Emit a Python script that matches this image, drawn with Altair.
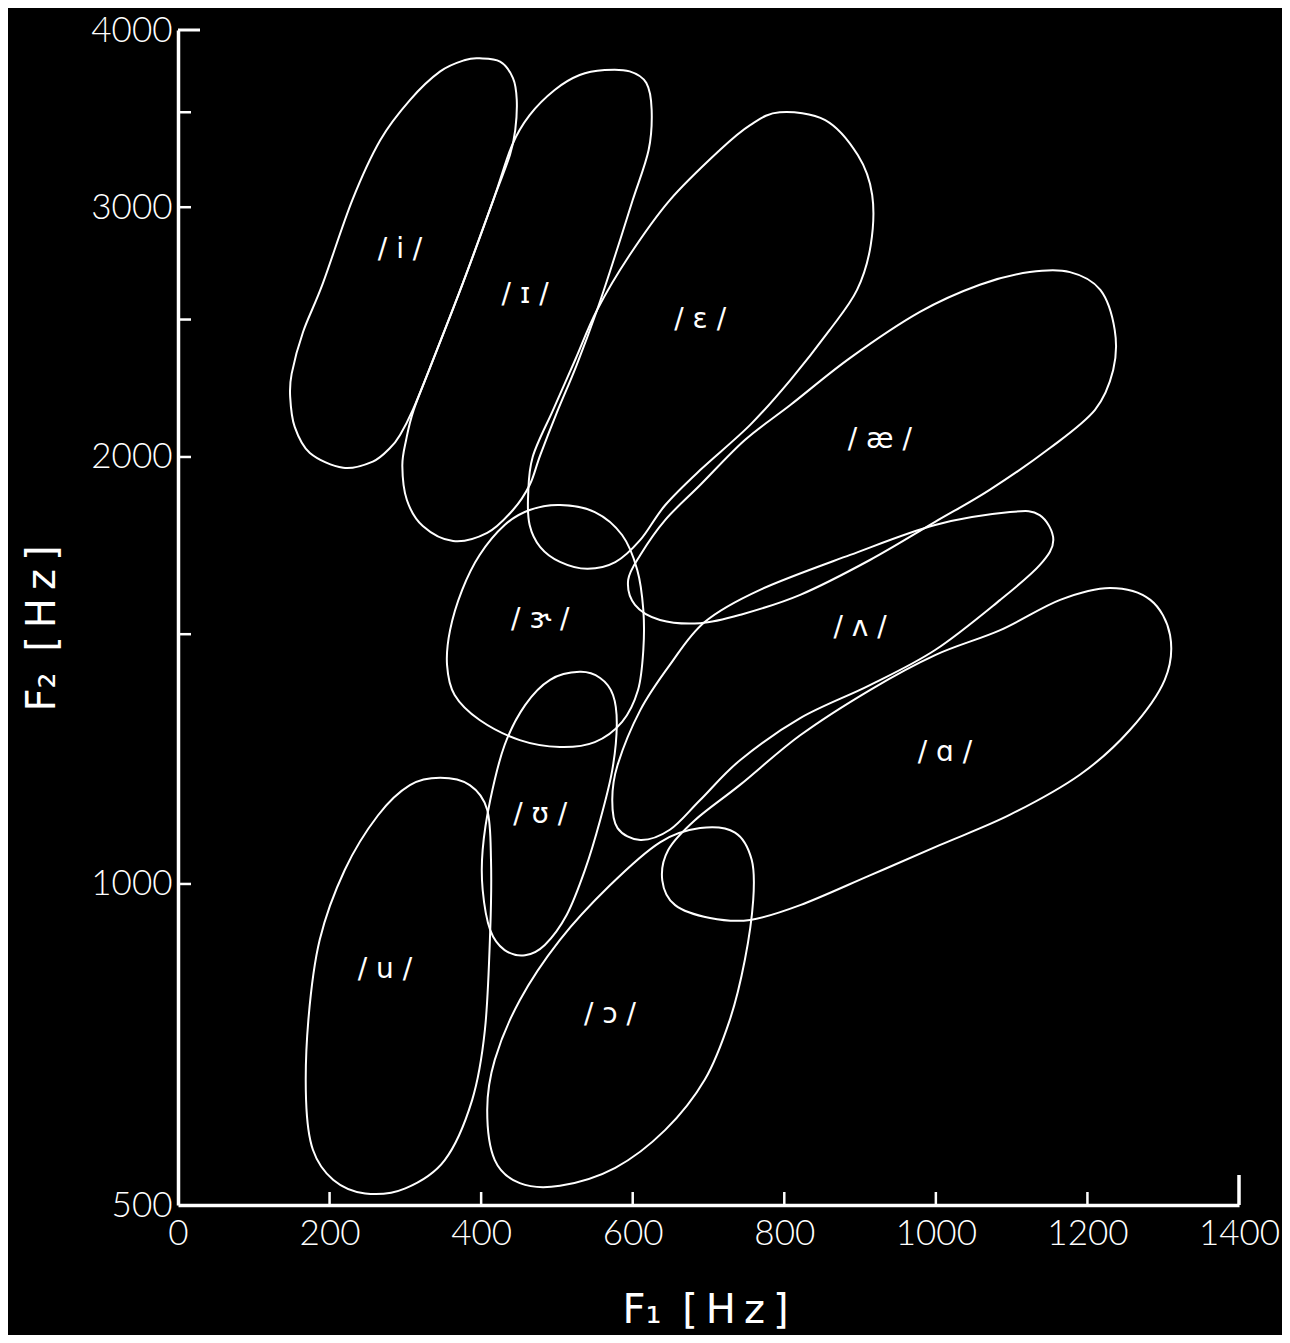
import altair as alt
import pandas as pd
import math

# ---------------- data (F1, F2 in Hz) ----------------
i_F1 = [398, 425, 442, 447, 445, 438, 416, 376, 335, 310, 293, 280, 257, 218, 174, 154, 148, 150, 165, 191, 230, 267, 306, 346, 379]
i_F2 = [3820, 3800, 3700, 3570, 3400, 3265, 3035, 2653, 2330, 2160, 2073, 2030, 1985, 1965, 2013, 2100, 2205, 2290, 2450, 2650, 3035, 3346, 3570, 3740, 3810]

I_F1 = [563, 596, 618, 625, 621, 600, 577, 553, 526, 500, 478, 464, 442, 408, 363, 323, 302, 296, 301, 311, 335, 376, 416, 441, 464, 497, 530]
I_F2 = [3748, 3740, 3670, 3513, 3292, 3035, 2776, 2539, 2322, 2150, 2006, 1911, 1835, 1768, 1745, 1788, 1865, 1971, 2056, 2159, 2330, 2653, 3035, 3320, 3484, 3629, 3718]

E_F1 = [794, 854, 897, 916, 914, 896, 860, 808, 755, 689, 643, 610, 577, 540, 504, 478, 464, 462, 468, 495, 524, 553, 596, 649, 715, 755]
E_F2 = [3500, 3456, 3265, 3060, 2820, 2623, 2458, 2266, 2107, 1958, 1850, 1748, 1686, 1668, 1687, 1728, 1791, 1880, 2000, 2159, 2341, 2539, 2776, 3035, 3292, 3428]

AE_F1 = [1177, 1217, 1236, 1234, 1210, 1151, 1071, 999, 913, 821, 742, 689, 636, 603, 594, 610, 643, 689, 748, 808, 887, 979, 1058, 1124]
AE_F2 = [2700, 2623, 2458, 2303, 2159, 2030, 1896, 1800, 1692, 1599, 1548, 1527, 1535, 1573, 1638, 1706, 1806, 1911, 2056, 2176, 2349, 2531, 2645, 2700]

V_F1 = [1098, 1137, 1155, 1137, 1085, 999, 913, 821, 742, 689, 649, 610, 580, 573, 580, 610, 649, 695, 768, 887, 999]
V_F2 = [1829, 1820, 1748, 1678, 1586, 1462, 1381, 1309, 1223, 1146, 1092, 1074, 1095, 1146, 1213, 1326, 1427, 1530, 1612, 1706, 1791]

A_F1 = [1230, 1283, 1309, 1302, 1256, 1190, 1098, 1005, 913, 821, 755, 702, 656, 639, 647, 682, 742, 821, 913, 999, 1085, 1164]
A_F2 = [1617, 1586, 1498, 1393, 1284, 1194, 1119, 1065, 1014, 967, 944, 947, 967, 1006, 1057, 1109, 1175, 1273, 1370, 1450, 1510, 1586]

ER_F1 = [504, 550, 586, 606, 614, 614, 607, 586, 550, 504, 451, 398, 365, 355, 359, 375, 398, 431, 464]
ER_F2 = [1850, 1829, 1762, 1665, 1560, 1462, 1370, 1301, 1259, 1249, 1263, 1305, 1359, 1427, 1510, 1612, 1706, 1791, 1835]

U_F1 = [530, 557, 574, 579, 573, 557, 537, 513, 484, 458, 431, 412, 402, 402, 412, 431, 458, 491]
U_F2 = [1411, 1397, 1359, 1295, 1203, 1109, 1023, 952, 905, 889, 897, 928, 991, 1057, 1146, 1253, 1337, 1393]

u_F1 = [346, 385, 408, 413, 412, 405, 388, 352, 300, 247, 205, 178, 169, 172, 187, 220, 264, 306]
u_F2 = [1188, 1174, 1128, 1040, 928, 773, 663, 570, 526, 518, 539, 586, 663, 788, 913, 1023, 1118, 1174]

O_F1 = [689, 735, 757, 759, 748, 728, 695, 643, 577, 504, 451, 418, 408, 418, 451, 504, 570, 636]
O_F2 = [1095, 1087, 1040, 975, 882, 788, 695, 617, 558, 530, 534, 570, 648, 726, 819, 913, 998, 1070]

contours = {
    "i": (i_F1, i_F2), "ɪ": (I_F1, I_F2), "ɛ": (E_F1, E_F2), "æ": (AE_F1, AE_F2),
    "ʌ": (V_F1, V_F2), "ɑ": (A_F1, A_F2), "ɝ": (ER_F1, ER_F2), "ʊ": (U_F1, U_F2),
    "u": (u_F1, u_F2), "ɔ": (O_F1, O_F2),
}

label_text = ["/ i /", "/ ɪ /", "/ ɛ /", "/ æ /", "/ ɝ /", "/ ʌ /", "/ ɑ /", "/ ʊ /", "/ u /", "/ ɔ /"]
label_F1 = [293, 458, 689, 926, 478, 900, 1012, 478, 273, 570]
label_F2 = [2799, 2600, 2498, 2056, 1535, 1515, 1237, 1118, 866, 796]

x_ticks = [0, 200, 400, 600, 800, 1000, 1200, 1400]
y_labels = [500, 1000, 2000, 3000, 4000]
y_minor = [1000, 1500, 2000, 2500, 3000, 3500]

# ---------------- scale helper (linear below 1 kHz, log above) ----------------
C = 0.665
def warp(f):
    return (f - 1000) / 1000 if f <= 1000 else math.log2(f / 1000) * C

U_EXPR = f"datum.F2 <= 1000 ? (datum.F2 - 1000) / 1000 : log(datum.F2 / 1000) / log(2) * {C}"

rows = []
for v, (xs, ys) in contours.items():
    for k, (a, b) in enumerate(zip(xs, ys)):
        rows.append({"vowel": v, "idx": k, "F1": a, "F2": b})
df = pd.DataFrame(rows)
lab = pd.DataFrame({"text": label_text, "F1": label_F1, "F2": label_F2})
ytk = pd.DataFrame({"F2": y_minor})
ytop = pd.DataFrame({"F2": [4000]})
xtk = pd.DataFrame({"F1": [200, 400, 600, 800, 1000, 1200]})
xend = pd.DataFrame({"F1": [1400]})

W, H = 1061, 1175
WHITE = "white"

x_axis = alt.Axis(
    values=x_ticks, format="d", ticks=False, grid=False, domainColor=WHITE, domainWidth=3.5,
    labelColor=WHITE, labelFont="Lato", labelFontWeight=300, labelFontSize=35,
    labelPadding=11, labelFlush=False,
    title="F₁ \u2009[\u2009H\u2009z\u2009]", titleColor=WHITE, titleFont="DejaVu Sans",
    titleFontSize=40, titleFontWeight="normal", titleX=527, titleY=105,
    titleBaseline="middle", titleAlign="center",
)
y_axis = alt.Axis(
    values=[warp(v) for v in y_labels], ticks=False, grid=False, domainColor=WHITE,
    domainWidth=3.5, labelColor=WHITE, labelFont="Lato", labelFontWeight=300,
    labelFontSize=35, labelPadding=6, labelFlush=False,
    labelExpr=f"datum.value <= 0 ? format(round(1000*(1+datum.value)/10)*10, 'd') : format(round(1000*pow(2, datum.value/{C})/10)*10, 'd')",
    title="F₂ \u2009[\u2009H\u2009z\u2009]", titleColor=WHITE, titleFont="DejaVu Sans",
    titleFontSize=40, titleFontWeight="normal", titleAngle=270, titleX=-136, titleY=598,
    titleBaseline="middle", titleAlign="center",
)

xenc = alt.X("F1:Q", scale=alt.Scale(domain=[0, 1400], nice=False, zero=False), axis=x_axis)
yenc = alt.Y("u:Q", scale=alt.Scale(domain=[warp(500), warp(4000)], nice=False, zero=False), axis=y_axis)

lines = alt.Chart(df).transform_calculate(u=U_EXPR).mark_line(
    interpolate="cardinal-closed", color=WHITE, strokeWidth=2
).encode(x=xenc, y=yenc, detail="vowel:N", order="idx:Q")

labels = alt.Chart(lab).transform_calculate(u=U_EXPR).mark_text(
    color=WHITE, fontSize=28, font="DejaVu Sans", align="center", baseline="middle"
).encode(x=xenc, y=yenc, text="text:N")

yt = alt.Chart(ytk).transform_calculate(u=U_EXPR).mark_rule(color=WHITE, strokeWidth=2.5).encode(
    y=yenc, x=alt.value(0), x2=alt.value(13))
yt_top = alt.Chart(ytop).transform_calculate(u=U_EXPR).mark_rule(color=WHITE, strokeWidth=3).encode(
    y=yenc, x=alt.value(0), x2=alt.value(22))
xt = alt.Chart(xtk).mark_rule(color=WHITE, strokeWidth=2.5).encode(
    x=xenc, y=alt.value(H), y2=alt.value(H - 13))
xt_end = alt.Chart(xend).mark_rule(color=WHITE, strokeWidth=3.5).encode(
    x=xenc, y=alt.value(H), y2=alt.value(H - 30))

chart = alt.layer(lines, labels, yt, yt_top, xt, xt_end).properties(
    width=W, height=H, background="black",
    autosize=alt.AutoSizeParams(type="none"),
    padding={"left": 170, "top": 22, "right": 43, "bottom": 130},
).configure_view(stroke=None)

chart.save("out.html", embed_options={"renderer": "svg", "actions": False})
